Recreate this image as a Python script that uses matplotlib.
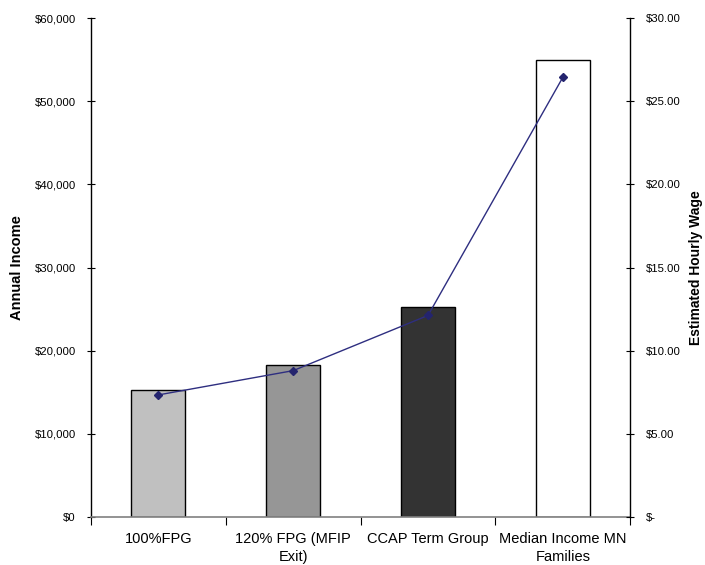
import matplotlib
matplotlib.use("Agg")
import matplotlib.pyplot as plt
from matplotlib.ticker import FixedLocator, NullFormatter

plt.rcParams['font.family'] = ['Liberation Sans', 'DejaVu Sans']

categories = ["100%FPG", "120% FPG (MFIP\nExit)", "CCAP Term Group", "Median Income MN\nFamilies"]
annual_income = [15260, 18312, 25200, 55000]
hourly_wage = [7.34, 8.80, 12.12, 26.44]
bar_colors = ["#C0C0C0", "#969696", "#333333", "#FFFFFF"]
left_ticks = [0, 10000, 20000, 30000, 40000, 50000, 60000]
left_labels = ["$0", "$10,000", "$20,000", "$30,000", "$40,000", "$50,000", "$60,000"]
right_ticks = [0, 5, 10, 15, 20, 25, 30]
right_labels = ["$-", "$5.00", "$10.00", "$15.00", "$20.00", "$25.00", "$30.00"]

fig = plt.figure(figsize=(7.05, 5.65), dpi=100)
ax = fig.add_axes([0.129, 0.085, 0.765, 0.883])
x = list(range(len(categories)))
ax.bar(x, annual_income, width=0.4, color=bar_colors, edgecolor="black", linewidth=1.0, zorder=2)
ax.set_xlim(-0.5, len(categories) - 0.5)
ax.set_ylim(0, 60000)
ax.set_yticks(left_ticks)
ax.set_yticklabels(left_labels, fontsize=8.2)
ax.tick_params(axis='y', direction='inout', length=6, width=0.8, pad=8)
ax.set_xticks(x)
ax.set_xticklabels(categories, fontsize=10.5, linespacing=1.3)
ax.tick_params(axis='x', which='major', length=0, pad=11)
ax.xaxis.set_minor_locator(FixedLocator([i + 0.5 for i in range(-1, len(categories))]))
ax.xaxis.set_minor_formatter(NullFormatter())
ax.tick_params(axis='x', which='minor', direction='out', length=6, width=0.8, color='black')
ax.spines['top'].set_visible(False)
ax.spines['bottom'].set_color('#808080')
ax.spines['bottom'].set_linewidth(1.2)
ax.spines['left'].set_linewidth(1.0)
ax.spines['right'].set_visible(False)
ax.set_ylabel("Annual Income", fontsize=10.5, fontweight='bold')
ax.yaxis.set_label_coords(-0.124, 0.5)

ax2 = ax.twinx()
ax2.plot(x, hourly_wage, color="#2E2E80", linewidth=1.0, marker='D', markersize=4,
         markerfacecolor="#24246E", markeredgecolor="#24246E", zorder=3)
ax2.set_ylim(0, 30)
ax2.set_yticks(right_ticks)
ax2.set_yticklabels(right_labels, fontsize=8.2)
ax2.tick_params(axis='y', direction='inout', length=6, width=0.8, pad=8.5)
ax2.spines['top'].set_visible(False)
ax2.spines['left'].set_visible(False)
ax2.spines['bottom'].set_visible(False)
ax2.spines['right'].set_linewidth(1.0)
ax2.set_ylabel("Estimated Hourly Wage", fontsize=10, fontweight='bold', rotation=90)
ax2.yaxis.set_label_coords(1.108, 0.5)

fig.savefig("out.png", dpi=100)
